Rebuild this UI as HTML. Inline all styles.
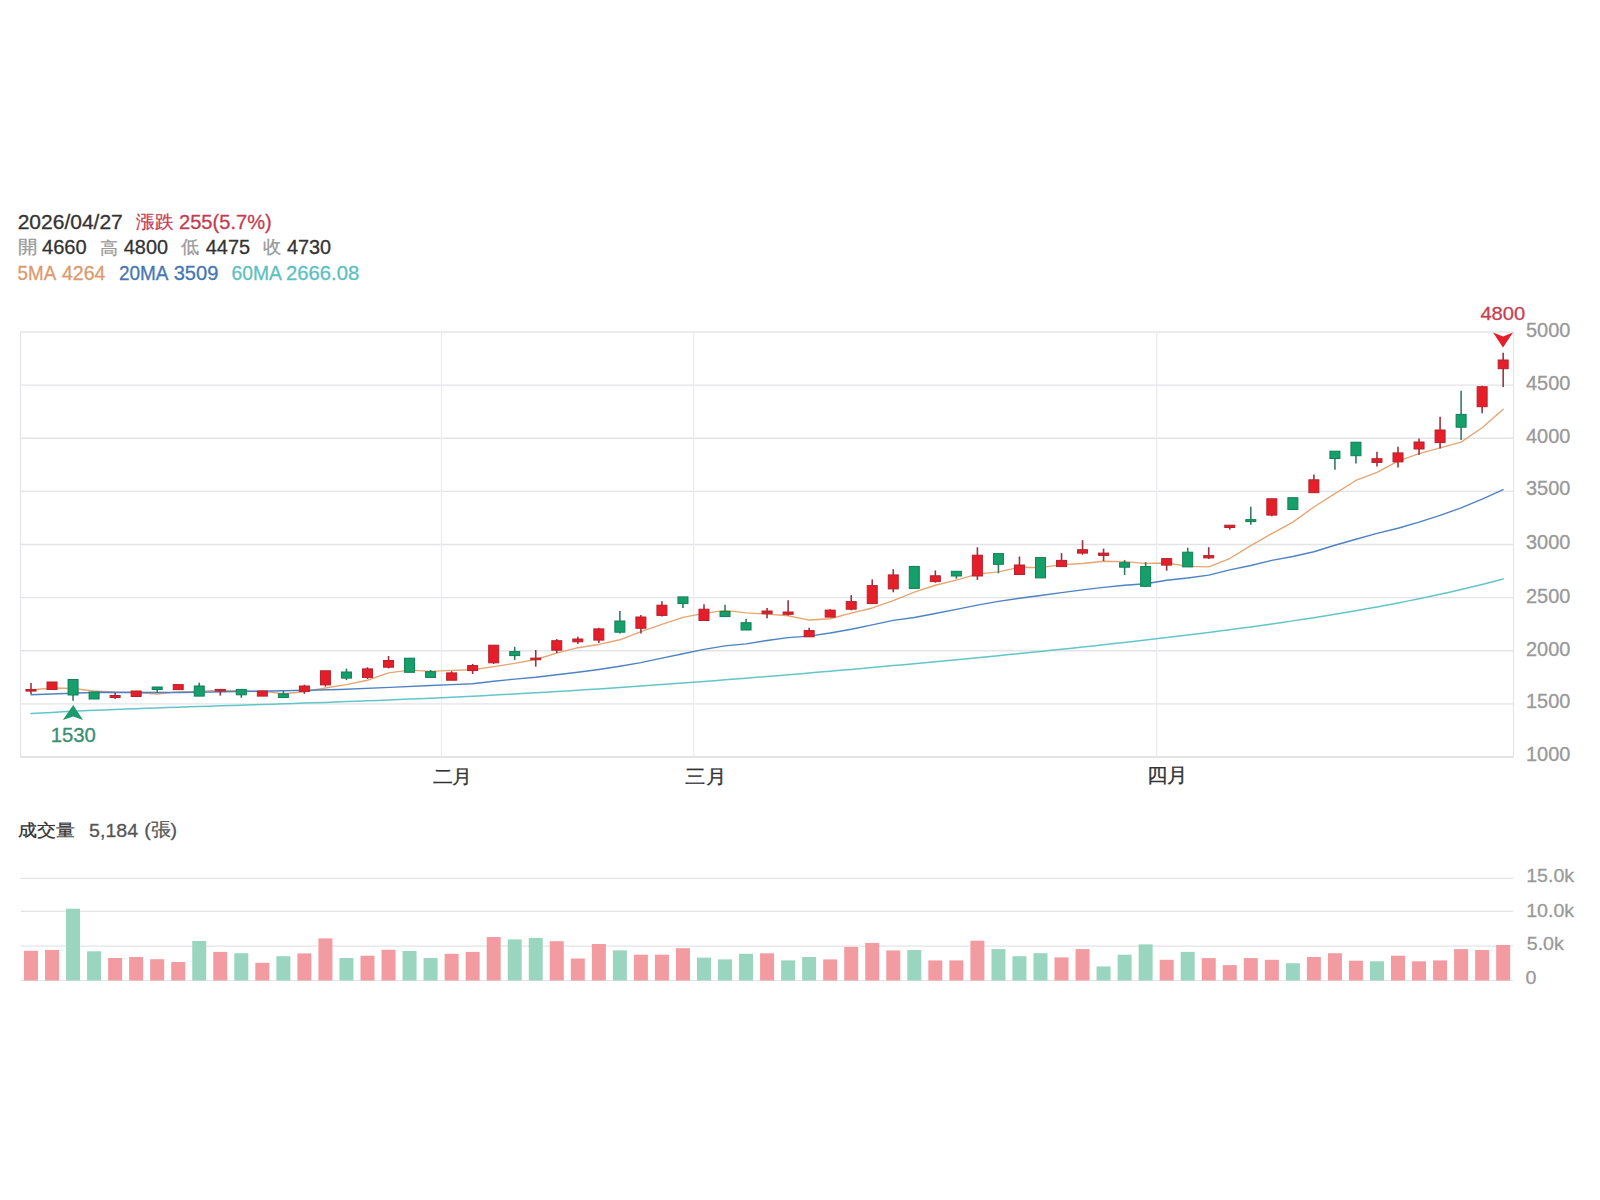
<!DOCTYPE html>
<html><head><meta charset="utf-8"><style>
html,body{margin:0;padding:0;background:#fff;width:1600px;height:1200px;overflow:hidden;position:relative}
body{font-family:"Liberation Sans",sans-serif}
.t{position:absolute;left:18.5px;font-size:20px;white-space:pre;line-height:1}
.g{color:#999} .d{color:#333} .r{color:#d23a4d}
</style></head><body>
<svg width="1600" height="1200" viewBox="0 0 1600 1200" style="position:absolute;left:0;top:0">
<line x1="20.5" y1="332.00" x2="1513.5" y2="332.00" stroke="#e3e4e8" stroke-width="1.3"/>
<line x1="20.5" y1="385.12" x2="1513.5" y2="385.12" stroke="#e3e4e8" stroke-width="1.3"/>
<line x1="20.5" y1="438.25" x2="1513.5" y2="438.25" stroke="#e3e4e8" stroke-width="1.3"/>
<line x1="20.5" y1="491.38" x2="1513.5" y2="491.38" stroke="#e3e4e8" stroke-width="1.3"/>
<line x1="20.5" y1="544.50" x2="1513.5" y2="544.50" stroke="#e3e4e8" stroke-width="1.3"/>
<line x1="20.5" y1="597.62" x2="1513.5" y2="597.62" stroke="#e3e4e8" stroke-width="1.3"/>
<line x1="20.5" y1="650.75" x2="1513.5" y2="650.75" stroke="#e3e4e8" stroke-width="1.3"/>
<line x1="20.5" y1="703.88" x2="1513.5" y2="703.88" stroke="#e3e4e8" stroke-width="1.3"/>
<line x1="20.5" y1="757.00" x2="1513.5" y2="757.00" stroke="#d9dade" stroke-width="1.5"/>
<line x1="20.5" y1="332.0" x2="20.5" y2="757.0" stroke="#e3e4e8" stroke-width="1.2"/>
<line x1="1513.5" y1="332.0" x2="1513.5" y2="757.0" stroke="#e3e4e8" stroke-width="1.2"/>
<line x1="441.5" y1="332.0" x2="441.5" y2="757.0" stroke="#ececef" stroke-width="1.2"/>
<line x1="693.7" y1="332.0" x2="693.7" y2="757.0" stroke="#ececef" stroke-width="1.2"/>
<line x1="1156.7" y1="332.0" x2="1156.7" y2="757.0" stroke="#ececef" stroke-width="1.2"/>
<polyline points="31.00,690.00 52.03,688.00 73.06,688.50 94.09,691.00 115.12,692.20 136.16,692.50 157.19,694.00 178.22,691.92 199.25,691.34 220.28,690.12 241.31,690.88 262.34,691.18 283.37,693.76 304.40,691.74 325.43,688.02 346.46,684.68 367.50,680.26 388.53,672.86 409.56,670.12 430.59,671.44 451.62,670.40 472.65,669.74 493.68,666.68 514.71,663.34 535.74,659.48 556.77,653.04 577.81,647.72 598.84,644.46 619.87,639.78 640.90,631.56 661.93,624.46 682.96,617.38 703.99,613.44 725.02,610.32 746.05,612.92 767.08,614.08 788.12,615.76 809.15,620.04 830.18,618.74 851.21,613.06 872.24,607.98 893.27,600.56 914.30,592.12 935.33,585.26 956.36,580.14 977.39,574.06 998.43,571.94 1019.46,567.26 1040.49,567.68 1061.52,564.56 1082.55,563.46 1103.58,561.22 1124.61,561.66 1145.64,563.34 1166.67,562.98 1187.70,566.42 1208.74,566.92 1229.77,558.52 1250.80,545.58 1271.83,533.62 1292.86,522.14 1313.89,506.98 1334.92,493.64 1355.95,480.46 1376.98,472.44 1398.01,461.12 1419.05,453.56 1440.08,447.86 1461.11,442.16 1482.14,427.76 1503.17,409.18" fill="none" stroke="#e6a572" stroke-width="1.35" stroke-linejoin="round" stroke-linecap="round"/>
<polyline points="31.00,694.70 100.00,692.25 180.00,692.50 260.00,691.25 340.00,689.50 390.00,687.40 430.59,685.45 451.62,684.62 472.65,683.80 493.68,681.31 514.71,679.13 535.74,677.26 556.77,674.75 577.81,672.23 598.84,669.44 619.87,666.25 640.90,662.62 661.93,658.14 682.96,653.77 703.99,649.36 725.02,645.89 746.05,643.85 767.08,640.50 788.12,637.65 809.15,636.15 830.18,633.04 851.21,629.25 872.24,624.89 893.27,620.36 914.30,617.52 935.33,613.52 956.36,609.42 977.39,605.15 998.43,601.41 1019.46,598.21 1040.49,595.50 1061.52,592.67 1082.55,589.90 1103.58,587.37 1124.61,585.27 1145.64,583.75 1166.67,580.19 1187.70,577.98 1208.74,575.16 1229.77,569.89 1250.80,565.46 1271.83,560.33 1292.86,556.52 1313.89,551.76 1334.92,545.27 1355.95,539.26 1376.98,533.40 1398.01,528.29 1419.05,522.17 1440.08,515.42 1461.11,507.89 1482.14,499.20 1503.17,489.72" fill="none" stroke="#4f82c2" stroke-width="1.4" stroke-linejoin="round" stroke-linecap="round"/>
<polyline points="31.00,713.59 41.52,712.98 52.03,712.40 62.55,711.86 73.06,711.34 83.58,710.84 94.09,710.37 104.61,709.92 115.12,709.49 125.64,709.08 136.16,708.68 146.67,708.30 157.19,707.92 167.70,707.56 178.22,707.20 188.73,706.86 199.25,706.51 209.76,706.17 220.28,705.84 230.79,705.50 241.31,705.17 251.83,704.83 262.34,704.49 272.86,704.15 283.37,703.81 293.89,703.46 304.40,703.10 314.92,702.74 325.43,702.38 335.95,702.00 346.46,701.61 356.98,701.22 367.50,700.82 378.01,700.40 388.53,699.98 399.04,699.54 409.56,699.10 420.07,698.64 430.59,698.17 441.10,697.69 451.62,697.19 462.14,696.69 472.65,696.17 483.17,695.63 493.68,695.09 504.20,694.53 514.71,693.95 525.23,693.37 535.74,692.77 546.26,692.16 556.77,691.53 567.29,690.90 577.81,690.24 588.32,689.58 598.84,688.90 609.35,688.22 619.87,687.51 630.38,686.80 640.90,686.08 651.41,685.34 661.93,684.59 672.45,683.83 682.96,683.06 693.48,682.28 703.99,681.49 714.51,680.68 725.02,679.87 735.54,679.04 746.05,678.21 756.57,677.37 767.08,676.52 777.60,675.65 788.12,674.78 798.63,673.90 809.15,673.02 819.66,672.12 830.18,671.21 840.69,670.30 851.21,669.38 861.72,668.45 872.24,667.51 882.76,666.57 893.27,665.62 903.79,664.66 914.30,663.69 924.82,662.71 935.33,661.73 945.85,660.74 956.36,659.74 966.88,658.73 977.39,657.72 987.91,656.69 998.43,655.66 1008.94,654.62 1019.46,653.57 1029.97,652.51 1040.49,651.43 1051.00,650.35 1061.52,649.26 1072.03,648.16 1082.55,647.04 1093.07,645.91 1103.58,644.77 1114.10,643.61 1124.61,642.44 1135.13,641.26 1145.64,640.06 1156.16,638.84 1166.67,637.60 1177.19,636.34 1187.70,635.06 1198.22,633.76 1208.74,632.44 1219.25,631.09 1229.77,629.72 1240.28,628.32 1250.80,626.89 1261.31,625.44 1271.83,623.95 1282.34,622.43 1292.86,620.87 1303.38,619.28 1313.89,617.64 1324.41,615.97 1334.92,614.26 1345.44,612.50 1355.95,610.69 1366.47,608.83 1376.98,606.93 1387.50,604.96 1398.01,602.95 1408.53,600.87 1419.05,598.73 1429.56,596.52 1440.08,594.25 1450.59,591.91 1461.11,589.49 1471.62,587.00 1482.14,584.42 1492.65,581.76 1503.17,579.02" fill="none" stroke="#62c6c8" stroke-width="1.5" stroke-linejoin="round" stroke-linecap="round"/>
<line x1="31.00" y1="683" x2="31.00" y2="694" stroke="#9a3443" stroke-width="1.6"/>
<rect x="26.00" y="689.50" width="10" height="1.60" fill="#e61e2a" stroke="#b3222d" stroke-width="1"/>
<line x1="52.03" y1="682" x2="52.03" y2="689.5" stroke="#9a3443" stroke-width="1.6"/>
<rect x="47.03" y="682.00" width="10" height="7.50" fill="#e61e2a" stroke="#b3222d" stroke-width="1"/>
<line x1="73.06" y1="679.5" x2="73.06" y2="700.7" stroke="#357a62" stroke-width="1.6"/>
<rect x="68.06" y="679.50" width="10" height="15.50" fill="#15a06b" stroke="#0f7f56" stroke-width="1"/>
<line x1="94.09" y1="692" x2="94.09" y2="699" stroke="#357a62" stroke-width="1.6"/>
<rect x="89.09" y="692.00" width="10" height="7.00" fill="#15a06b" stroke="#0f7f56" stroke-width="1"/>
<line x1="115.12" y1="693" x2="115.12" y2="699" stroke="#9a3443" stroke-width="1.6"/>
<rect x="110.12" y="695.50" width="10" height="2.00" fill="#e61e2a" stroke="#b3222d" stroke-width="1"/>
<line x1="136.16" y1="691" x2="136.16" y2="696.5" stroke="#9a3443" stroke-width="1.6"/>
<rect x="131.16" y="691.00" width="10" height="5.50" fill="#e61e2a" stroke="#b3222d" stroke-width="1"/>
<line x1="157.19" y1="687" x2="157.19" y2="693" stroke="#357a62" stroke-width="1.6"/>
<rect x="152.19" y="687.00" width="10" height="2.50" fill="#15a06b" stroke="#0f7f56" stroke-width="1"/>
<line x1="178.22" y1="684.6" x2="178.22" y2="689.6" stroke="#9a3443" stroke-width="1.6"/>
<rect x="173.22" y="684.60" width="10" height="5.00" fill="#e61e2a" stroke="#b3222d" stroke-width="1"/>
<line x1="199.25" y1="682.6" x2="199.25" y2="696.1" stroke="#357a62" stroke-width="1.6"/>
<rect x="194.25" y="686.00" width="10" height="10.10" fill="#15a06b" stroke="#0f7f56" stroke-width="1"/>
<line x1="220.28" y1="689.4" x2="220.28" y2="695.6" stroke="#9a3443" stroke-width="1.6"/>
<rect x="215.28" y="689.40" width="10" height="1.60" fill="#e61e2a" stroke="#b3222d" stroke-width="1"/>
<line x1="241.31" y1="689.4" x2="241.31" y2="697.8" stroke="#357a62" stroke-width="1.6"/>
<rect x="236.31" y="689.40" width="10" height="5.40" fill="#15a06b" stroke="#0f7f56" stroke-width="1"/>
<line x1="262.34" y1="691" x2="262.34" y2="696.1" stroke="#9a3443" stroke-width="1.6"/>
<rect x="257.34" y="691.00" width="10" height="5.10" fill="#e61e2a" stroke="#b3222d" stroke-width="1"/>
<line x1="283.37" y1="691" x2="283.37" y2="697.5" stroke="#357a62" stroke-width="1.6"/>
<rect x="278.37" y="693.90" width="10" height="3.60" fill="#15a06b" stroke="#0f7f56" stroke-width="1"/>
<line x1="304.40" y1="684.6" x2="304.40" y2="693.9" stroke="#9a3443" stroke-width="1.6"/>
<rect x="299.40" y="686.00" width="10" height="5.40" fill="#e61e2a" stroke="#b3222d" stroke-width="1"/>
<line x1="325.43" y1="670.8" x2="325.43" y2="686.6" stroke="#9a3443" stroke-width="1.6"/>
<rect x="320.43" y="670.80" width="10" height="14.10" fill="#e61e2a" stroke="#b3222d" stroke-width="1"/>
<line x1="346.46" y1="668.6" x2="346.46" y2="680.1" stroke="#357a62" stroke-width="1.6"/>
<rect x="341.46" y="672.00" width="10" height="6.10" fill="#15a06b" stroke="#0f7f56" stroke-width="1"/>
<line x1="367.50" y1="667.2" x2="367.50" y2="679" stroke="#9a3443" stroke-width="1.6"/>
<rect x="362.50" y="668.90" width="10" height="8.50" fill="#e61e2a" stroke="#b3222d" stroke-width="1"/>
<line x1="388.53" y1="656" x2="388.53" y2="668.4" stroke="#9a3443" stroke-width="1.6"/>
<rect x="383.53" y="660.50" width="10" height="6.70" fill="#e61e2a" stroke="#b3222d" stroke-width="1"/>
<line x1="409.56" y1="658.2" x2="409.56" y2="672.3" stroke="#357a62" stroke-width="1.6"/>
<rect x="404.56" y="658.20" width="10" height="14.10" fill="#15a06b" stroke="#0f7f56" stroke-width="1"/>
<line x1="430.59" y1="670" x2="430.59" y2="677.4" stroke="#357a62" stroke-width="1.6"/>
<rect x="425.59" y="671.70" width="10" height="5.70" fill="#15a06b" stroke="#0f7f56" stroke-width="1"/>
<line x1="451.62" y1="671.2" x2="451.62" y2="680.2" stroke="#9a3443" stroke-width="1.6"/>
<rect x="446.62" y="672.90" width="10" height="7.30" fill="#e61e2a" stroke="#b3222d" stroke-width="1"/>
<line x1="472.65" y1="663.9" x2="472.65" y2="674" stroke="#9a3443" stroke-width="1.6"/>
<rect x="467.65" y="665.60" width="10" height="5.00" fill="#e61e2a" stroke="#b3222d" stroke-width="1"/>
<line x1="493.68" y1="645.2" x2="493.68" y2="663.9" stroke="#9a3443" stroke-width="1.6"/>
<rect x="488.68" y="645.20" width="10" height="17.60" fill="#e61e2a" stroke="#b3222d" stroke-width="1"/>
<line x1="514.71" y1="646.8" x2="514.71" y2="660" stroke="#357a62" stroke-width="1.6"/>
<rect x="509.71" y="651.60" width="10" height="4.00" fill="#15a06b" stroke="#0f7f56" stroke-width="1"/>
<line x1="535.74" y1="650" x2="535.74" y2="666.6" stroke="#9a3443" stroke-width="1.6"/>
<rect x="530.74" y="658.10" width="10" height="1.60" fill="#e61e2a" stroke="#b3222d" stroke-width="1"/>
<line x1="556.77" y1="639" x2="556.77" y2="653" stroke="#9a3443" stroke-width="1.6"/>
<rect x="551.77" y="640.70" width="10" height="9.50" fill="#e61e2a" stroke="#b3222d" stroke-width="1"/>
<line x1="577.81" y1="636.7" x2="577.81" y2="644" stroke="#9a3443" stroke-width="1.6"/>
<rect x="572.81" y="639.00" width="10" height="2.80" fill="#e61e2a" stroke="#b3222d" stroke-width="1"/>
<line x1="598.84" y1="627.7" x2="598.84" y2="642.9" stroke="#9a3443" stroke-width="1.6"/>
<rect x="593.84" y="628.90" width="10" height="11.20" fill="#e61e2a" stroke="#b3222d" stroke-width="1"/>
<line x1="619.87" y1="610.9" x2="619.87" y2="633.4" stroke="#357a62" stroke-width="1.6"/>
<rect x="614.87" y="621.00" width="10" height="11.20" fill="#15a06b" stroke="#0f7f56" stroke-width="1"/>
<line x1="640.90" y1="615.1" x2="640.90" y2="633.4" stroke="#9a3443" stroke-width="1.6"/>
<rect x="635.90" y="617.00" width="10" height="11.30" fill="#e61e2a" stroke="#b3222d" stroke-width="1"/>
<line x1="661.93" y1="601.3" x2="661.93" y2="616.5" stroke="#9a3443" stroke-width="1.6"/>
<rect x="656.93" y="605.20" width="10" height="10.20" fill="#e61e2a" stroke="#b3222d" stroke-width="1"/>
<line x1="682.96" y1="596.9" x2="682.96" y2="608.1" stroke="#357a62" stroke-width="1.6"/>
<rect x="677.96" y="596.90" width="10" height="6.70" fill="#15a06b" stroke="#0f7f56" stroke-width="1"/>
<line x1="703.99" y1="604.2" x2="703.99" y2="620.5" stroke="#9a3443" stroke-width="1.6"/>
<rect x="698.99" y="609.20" width="10" height="11.30" fill="#e61e2a" stroke="#b3222d" stroke-width="1"/>
<line x1="725.02" y1="604.7" x2="725.02" y2="616.6" stroke="#357a62" stroke-width="1.6"/>
<rect x="720.02" y="611.50" width="10" height="5.10" fill="#15a06b" stroke="#0f7f56" stroke-width="1"/>
<line x1="746.05" y1="618.8" x2="746.05" y2="630" stroke="#357a62" stroke-width="1.6"/>
<rect x="741.05" y="622.70" width="10" height="7.30" fill="#15a06b" stroke="#0f7f56" stroke-width="1"/>
<line x1="767.08" y1="608.1" x2="767.08" y2="618.2" stroke="#9a3443" stroke-width="1.6"/>
<rect x="762.08" y="611.00" width="10" height="2.70" fill="#e61e2a" stroke="#b3222d" stroke-width="1"/>
<line x1="788.12" y1="600.2" x2="788.12" y2="615.4" stroke="#9a3443" stroke-width="1.6"/>
<rect x="783.12" y="612.00" width="10" height="2.30" fill="#e61e2a" stroke="#b3222d" stroke-width="1"/>
<line x1="809.15" y1="627.8" x2="809.15" y2="636.8" stroke="#9a3443" stroke-width="1.6"/>
<rect x="804.15" y="630.60" width="10" height="6.20" fill="#e61e2a" stroke="#b3222d" stroke-width="1"/>
<line x1="830.18" y1="609.2" x2="830.18" y2="617.1" stroke="#9a3443" stroke-width="1.6"/>
<rect x="825.18" y="610.10" width="10" height="7.00" fill="#e61e2a" stroke="#b3222d" stroke-width="1"/>
<line x1="851.21" y1="595.1" x2="851.21" y2="610.3" stroke="#9a3443" stroke-width="1.6"/>
<rect x="846.21" y="601.60" width="10" height="7.60" fill="#e61e2a" stroke="#b3222d" stroke-width="1"/>
<line x1="872.24" y1="579.4" x2="872.24" y2="603.6" stroke="#9a3443" stroke-width="1.6"/>
<rect x="867.24" y="585.60" width="10" height="18.00" fill="#e61e2a" stroke="#b3222d" stroke-width="1"/>
<line x1="893.27" y1="569.2" x2="893.27" y2="592.3" stroke="#9a3443" stroke-width="1.6"/>
<rect x="888.27" y="574.90" width="10" height="14.00" fill="#e61e2a" stroke="#b3222d" stroke-width="1"/>
<line x1="914.30" y1="566.4" x2="914.30" y2="588.4" stroke="#357a62" stroke-width="1.6"/>
<rect x="909.30" y="566.40" width="10" height="22.00" fill="#15a06b" stroke="#0f7f56" stroke-width="1"/>
<line x1="935.33" y1="570.4" x2="935.33" y2="582.7" stroke="#9a3443" stroke-width="1.6"/>
<rect x="930.33" y="575.80" width="10" height="5.80" fill="#e61e2a" stroke="#b3222d" stroke-width="1"/>
<line x1="956.36" y1="571.3" x2="956.36" y2="578.8" stroke="#357a62" stroke-width="1.6"/>
<rect x="951.36" y="571.30" width="10" height="4.70" fill="#15a06b" stroke="#0f7f56" stroke-width="1"/>
<line x1="977.39" y1="547.3" x2="977.39" y2="579.9" stroke="#9a3443" stroke-width="1.6"/>
<rect x="972.39" y="555.20" width="10" height="20.80" fill="#e61e2a" stroke="#b3222d" stroke-width="1"/>
<line x1="998.43" y1="553.6" x2="998.43" y2="573.3" stroke="#357a62" stroke-width="1.6"/>
<rect x="993.43" y="553.60" width="10" height="10.70" fill="#15a06b" stroke="#0f7f56" stroke-width="1"/>
<line x1="1019.46" y1="556.5" x2="1019.46" y2="574.5" stroke="#9a3443" stroke-width="1.6"/>
<rect x="1014.46" y="565.00" width="10" height="9.50" fill="#e61e2a" stroke="#b3222d" stroke-width="1"/>
<line x1="1040.49" y1="557.6" x2="1040.49" y2="577.9" stroke="#357a62" stroke-width="1.6"/>
<rect x="1035.49" y="557.60" width="10" height="20.30" fill="#15a06b" stroke="#0f7f56" stroke-width="1"/>
<line x1="1061.52" y1="553.1" x2="1061.52" y2="566.6" stroke="#9a3443" stroke-width="1.6"/>
<rect x="1056.52" y="560.40" width="10" height="6.20" fill="#e61e2a" stroke="#b3222d" stroke-width="1"/>
<line x1="1082.55" y1="540.2" x2="1082.55" y2="554.8" stroke="#9a3443" stroke-width="1.6"/>
<rect x="1077.55" y="549.70" width="10" height="3.40" fill="#e61e2a" stroke="#b3222d" stroke-width="1"/>
<line x1="1103.58" y1="548.6" x2="1103.58" y2="561" stroke="#9a3443" stroke-width="1.6"/>
<rect x="1098.58" y="553.10" width="10" height="2.30" fill="#e61e2a" stroke="#b3222d" stroke-width="1"/>
<line x1="1124.61" y1="559.9" x2="1124.61" y2="575" stroke="#357a62" stroke-width="1.6"/>
<rect x="1119.61" y="562.70" width="10" height="4.50" fill="#15a06b" stroke="#0f7f56" stroke-width="1"/>
<line x1="1145.64" y1="562.1" x2="1145.64" y2="586.3" stroke="#357a62" stroke-width="1.6"/>
<rect x="1140.64" y="566.60" width="10" height="19.70" fill="#15a06b" stroke="#0f7f56" stroke-width="1"/>
<line x1="1166.67" y1="558.6" x2="1166.67" y2="570.7" stroke="#9a3443" stroke-width="1.6"/>
<rect x="1161.67" y="558.60" width="10" height="6.50" fill="#e61e2a" stroke="#b3222d" stroke-width="1"/>
<line x1="1187.70" y1="547.7" x2="1187.70" y2="566.9" stroke="#357a62" stroke-width="1.6"/>
<rect x="1182.70" y="552.20" width="10" height="14.70" fill="#15a06b" stroke="#0f7f56" stroke-width="1"/>
<line x1="1208.74" y1="547.2" x2="1208.74" y2="559" stroke="#9a3443" stroke-width="1.6"/>
<rect x="1203.74" y="555.60" width="10" height="2.30" fill="#e61e2a" stroke="#b3222d" stroke-width="1"/>
<line x1="1229.77" y1="525.2" x2="1229.77" y2="529.7" stroke="#9a3443" stroke-width="1.6"/>
<rect x="1224.77" y="525.20" width="10" height="2.30" fill="#e61e2a" stroke="#b3222d" stroke-width="1"/>
<line x1="1250.80" y1="506.7" x2="1250.80" y2="524.7" stroke="#357a62" stroke-width="1.6"/>
<rect x="1245.80" y="519.60" width="10" height="2.00" fill="#15a06b" stroke="#0f7f56" stroke-width="1"/>
<line x1="1271.83" y1="498.8" x2="1271.83" y2="516.2" stroke="#9a3443" stroke-width="1.6"/>
<rect x="1266.83" y="498.80" width="10" height="16.30" fill="#e61e2a" stroke="#b3222d" stroke-width="1"/>
<line x1="1292.86" y1="497.7" x2="1292.86" y2="509.5" stroke="#357a62" stroke-width="1.6"/>
<rect x="1287.86" y="497.70" width="10" height="11.80" fill="#15a06b" stroke="#0f7f56" stroke-width="1"/>
<line x1="1313.89" y1="474.4" x2="1313.89" y2="492.7" stroke="#9a3443" stroke-width="1.6"/>
<rect x="1308.89" y="479.80" width="10" height="12.90" fill="#e61e2a" stroke="#b3222d" stroke-width="1"/>
<line x1="1334.92" y1="451.2" x2="1334.92" y2="469.7" stroke="#357a62" stroke-width="1.6"/>
<rect x="1329.92" y="451.20" width="10" height="7.30" fill="#15a06b" stroke="#0f7f56" stroke-width="1"/>
<line x1="1355.95" y1="442.2" x2="1355.95" y2="463.6" stroke="#357a62" stroke-width="1.6"/>
<rect x="1350.95" y="442.20" width="10" height="13.50" fill="#15a06b" stroke="#0f7f56" stroke-width="1"/>
<line x1="1376.98" y1="451.7" x2="1376.98" y2="466.4" stroke="#9a3443" stroke-width="1.6"/>
<rect x="1371.98" y="458.70" width="10" height="3.70" fill="#e61e2a" stroke="#b3222d" stroke-width="1"/>
<line x1="1398.01" y1="446.7" x2="1398.01" y2="467.5" stroke="#9a3443" stroke-width="1.6"/>
<rect x="1393.01" y="452.90" width="10" height="9.00" fill="#e61e2a" stroke="#b3222d" stroke-width="1"/>
<line x1="1419.05" y1="438.5" x2="1419.05" y2="455.1" stroke="#9a3443" stroke-width="1.6"/>
<rect x="1414.05" y="442.00" width="10" height="7.00" fill="#e61e2a" stroke="#b3222d" stroke-width="1"/>
<line x1="1440.08" y1="416.8" x2="1440.08" y2="448.4" stroke="#9a3443" stroke-width="1.6"/>
<rect x="1435.08" y="430.00" width="10" height="12.60" fill="#e61e2a" stroke="#b3222d" stroke-width="1"/>
<line x1="1461.11" y1="390.8" x2="1461.11" y2="440" stroke="#357a62" stroke-width="1.6"/>
<rect x="1456.11" y="414.40" width="10" height="12.80" fill="#15a06b" stroke="#0f7f56" stroke-width="1"/>
<line x1="1482.14" y1="385.8" x2="1482.14" y2="413.3" stroke="#9a3443" stroke-width="1.6"/>
<rect x="1477.14" y="386.70" width="10" height="20.00" fill="#e61e2a" stroke="#b3222d" stroke-width="1"/>
<line x1="1503.17" y1="352.8" x2="1503.17" y2="387" stroke="#9a3443" stroke-width="1.6"/>
<rect x="1498.17" y="360.00" width="10" height="8.70" fill="#e61e2a" stroke="#b3222d" stroke-width="1"/>
<path d="M73.2,705.1 L83,720 L73.2,716.6 L62.8,720 Z" fill="#1b9a6c"/>
<path d="M1493,332.5 L1503,336.4 L1513,332.5 L1503,347.5 Z" fill="#e61d2b"/>
<text transform="translate(17.70,229.40) scale(1.0504,1.0070)" font-size="20" fill="#333" stroke="#333" stroke-width="0.3" font-family="'Liberation Sans', sans-serif">2026/04/27</text>
<text transform="translate(136.31,228.15) scale(0.9311,0.9043)" font-size="20" fill="#c43c50" stroke="#c43c50" stroke-width="0.3" font-family="'Liberation Sans', sans-serif">漲跌</text>
<text transform="translate(178.99,229.20) scale(1.0056,0.9930)" font-size="20" fill="#c43c50" stroke="#c43c50" stroke-width="0.3" font-family="'Liberation Sans', sans-serif">255(5.7%)</text>
<text transform="translate(17.81,253.34) scale(0.9884,0.9140)" font-size="20" fill="#999" stroke="#999" stroke-width="0.3" font-family="'Liberation Sans', sans-serif">開</text>
<text transform="translate(42.00,254.40) scale(1.0046,0.9720)" font-size="20" fill="#333" stroke="#333" stroke-width="0.3" font-family="'Liberation Sans', sans-serif">4660</text>
<text transform="translate(99.57,253.64) scale(0.9167,0.8673)" font-size="20" fill="#999" stroke="#999" stroke-width="0.3" font-family="'Liberation Sans', sans-serif">高</text>
<text transform="translate(123.80,254.40) scale(0.9931,0.9720)" font-size="20" fill="#333" stroke="#333" stroke-width="0.3" font-family="'Liberation Sans', sans-serif">4800</text>
<text transform="translate(181.20,253.30) scale(0.9278,0.9239)" font-size="20" fill="#999" stroke="#999" stroke-width="0.3" font-family="'Liberation Sans', sans-serif">低</text>
<text transform="translate(205.70,254.40) scale(0.9977,0.9720)" font-size="20" fill="#333" stroke="#333" stroke-width="0.3" font-family="'Liberation Sans', sans-serif">4475</text>
<text transform="translate(263.26,253.14) scale(0.9239,0.9140)" font-size="20" fill="#999" stroke="#999" stroke-width="0.3" font-family="'Liberation Sans', sans-serif">收</text>
<text transform="translate(287.00,254.40) scale(0.9931,0.9720)" font-size="20" fill="#333" stroke="#333" stroke-width="0.3" font-family="'Liberation Sans', sans-serif">4730</text>
<text transform="translate(17.55,279.60) scale(0.9406,1.0000)" font-size="20" fill="#dc9a6c" stroke="#dc9a6c" stroke-width="0.3" font-family="'Liberation Sans', sans-serif">5MA</text>
<text transform="translate(61.91,279.60) scale(0.9794,1.0000)" font-size="20" fill="#dc9a6c" stroke="#dc9a6c" stroke-width="0.3" font-family="'Liberation Sans', sans-serif">4264</text>
<text transform="translate(118.95,279.60) scale(0.9492,1.0000)" font-size="20" fill="#4676b4" stroke="#4676b4" stroke-width="0.3" font-family="'Liberation Sans', sans-serif">20MA</text>
<text transform="translate(173.70,279.60) scale(1.0047,1.0000)" font-size="20" fill="#4676b4" stroke="#4676b4" stroke-width="0.3" font-family="'Liberation Sans', sans-serif">3509</text>
<text transform="translate(231.44,279.60) scale(0.9648,1.0000)" font-size="20" fill="#5cc0c0" stroke="#5cc0c0" stroke-width="0.3" font-family="'Liberation Sans', sans-serif">60MA</text>
<text transform="translate(286.09,279.60) scale(1.0114,1.0000)" font-size="20" fill="#5cc0c0" stroke="#5cc0c0" stroke-width="0.3" font-family="'Liberation Sans', sans-serif">2666.08</text>
<text transform="translate(18.42,835.84) scale(0.9590,0.8614)" font-size="20" fill="#333" stroke="#333" stroke-width="0.3" font-family="'Liberation Sans', sans-serif">成交量</text>
<text transform="translate(89.12,836.90) scale(0.9795,0.9441)" font-size="20" fill="#555" stroke="#555" stroke-width="0.3" font-family="'Liberation Sans', sans-serif">5,184</text>
<text transform="translate(144.32,836.39) scale(0.9839,0.9300)" font-size="20" fill="#555" stroke="#555" stroke-width="0.3" font-family="'Liberation Sans', sans-serif">(張)</text>
<text transform="translate(432.91,782.76) scale(0.9858,0.9389)" font-size="20" fill="#333" stroke="#333" stroke-width="0.3" font-family="'Liberation Sans', sans-serif">二月</text>
<text transform="translate(684.99,782.76) scale(1.0114,0.9389)" font-size="20" fill="#333" stroke="#333" stroke-width="0.3" font-family="'Liberation Sans', sans-serif">三月</text>
<text transform="translate(1147.09,782.44) scale(1.0060,0.9833)" font-size="20" fill="#333" stroke="#333" stroke-width="0.3" font-family="'Liberation Sans', sans-serif">四月</text>
<text transform="translate(50.68,742.20) scale(1.0165,0.9930)" font-size="20" fill="#3a8f72" stroke="#3a8f72" stroke-width="0.3" font-family="'Liberation Sans', sans-serif">1530</text>
<text transform="translate(1480.40,320.40) scale(1.0092,0.9580)" font-size="20" fill="#c8404e" stroke="#c8404e" stroke-width="0.3" font-family="'Liberation Sans', sans-serif">4800</text>
<text transform="translate(1526.13,882.20) scale(0.9811,0.9406)" font-size="20" fill="#999" stroke="#999" stroke-width="0.3" font-family="'Liberation Sans', sans-serif">15.0k</text>
<text transform="translate(1526.00,336.60) scale(0.9977,1.0070)" font-size="20" fill="#999" stroke="#999" stroke-width="0.3" font-family="'Liberation Sans', sans-serif">5000</text>
<text transform="translate(1526.00,389.90) scale(0.9977,1.0070)" font-size="20" fill="#999" stroke="#999" stroke-width="0.3" font-family="'Liberation Sans', sans-serif">4500</text>
<text transform="translate(1526.00,443.40) scale(0.9977,1.0070)" font-size="20" fill="#999" stroke="#999" stroke-width="0.3" font-family="'Liberation Sans', sans-serif">4000</text>
<text transform="translate(1526.00,495.40) scale(0.9977,1.0070)" font-size="20" fill="#999" stroke="#999" stroke-width="0.3" font-family="'Liberation Sans', sans-serif">3500</text>
<text transform="translate(1526.00,549.30) scale(0.9977,1.0070)" font-size="20" fill="#999" stroke="#999" stroke-width="0.3" font-family="'Liberation Sans', sans-serif">3000</text>
<text transform="translate(1526.00,602.70) scale(0.9977,1.0070)" font-size="20" fill="#999" stroke="#999" stroke-width="0.3" font-family="'Liberation Sans', sans-serif">2500</text>
<text transform="translate(1526.00,656.00) scale(0.9977,1.0070)" font-size="20" fill="#999" stroke="#999" stroke-width="0.3" font-family="'Liberation Sans', sans-serif">2000</text>
<text transform="translate(1526.00,707.70) scale(0.9977,1.0070)" font-size="20" fill="#999" stroke="#999" stroke-width="0.3" font-family="'Liberation Sans', sans-serif">1500</text>
<text transform="translate(1526.00,761.00) scale(0.9977,1.0070)" font-size="20" fill="#999" stroke="#999" stroke-width="0.3" font-family="'Liberation Sans', sans-serif">1000</text>
<line x1="20.8" y1="878.3" x2="1513.3" y2="878.3" stroke="#e3e4e8" stroke-width="1.2"/>
<line x1="20.8" y1="911.3" x2="1513.3" y2="911.3" stroke="#e3e4e8" stroke-width="1.2"/>
<line x1="20.8" y1="946.2" x2="1513.3" y2="946.2" stroke="#e3e4e8" stroke-width="1.2"/>
<line x1="20.8" y1="980.5" x2="1513.3" y2="980.5" stroke="#e3e4e8" stroke-width="1.2"/>
<text transform="translate(1526.13,917.20) scale(0.9811,0.9510)" font-size="20" fill="#999" stroke="#999" stroke-width="0.3" font-family="'Liberation Sans', sans-serif">10.0k</text>
<text transform="translate(1526.72,949.80) scale(0.9811,0.9510)" font-size="20" fill="#999" stroke="#999" stroke-width="0.3" font-family="'Liberation Sans', sans-serif">5.0k</text>
<text transform="translate(1525.52,984.30) scale(0.9811,0.9510)" font-size="20" fill="#999" stroke="#999" stroke-width="0.3" font-family="'Liberation Sans', sans-serif">0</text>
<rect x="24.00" y="950.8" width="14" height="29.70" fill="#f29ca1"/>
<rect x="45.03" y="950" width="14" height="30.50" fill="#f29ca1"/>
<rect x="66.06" y="908.7" width="14" height="71.80" fill="#9ad5c0"/>
<rect x="87.09" y="951.3" width="14" height="29.20" fill="#9ad5c0"/>
<rect x="108.12" y="958" width="14" height="22.50" fill="#f29ca1"/>
<rect x="129.16" y="957" width="14" height="23.50" fill="#f29ca1"/>
<rect x="150.19" y="959.2" width="14" height="21.30" fill="#f29ca1"/>
<rect x="171.22" y="962" width="14" height="18.50" fill="#f29ca1"/>
<rect x="192.25" y="941" width="14" height="39.50" fill="#9ad5c0"/>
<rect x="213.28" y="951.9" width="14" height="28.60" fill="#f29ca1"/>
<rect x="234.31" y="953.2" width="14" height="27.30" fill="#9ad5c0"/>
<rect x="255.34" y="962.8" width="14" height="17.70" fill="#f29ca1"/>
<rect x="276.37" y="956.2" width="14" height="24.30" fill="#9ad5c0"/>
<rect x="297.40" y="953.4" width="14" height="27.10" fill="#f29ca1"/>
<rect x="318.43" y="938.4" width="14" height="42.10" fill="#f29ca1"/>
<rect x="339.46" y="958" width="14" height="22.50" fill="#9ad5c0"/>
<rect x="360.50" y="955.7" width="14" height="24.80" fill="#f29ca1"/>
<rect x="381.53" y="949.7" width="14" height="30.80" fill="#f29ca1"/>
<rect x="402.56" y="951" width="14" height="29.50" fill="#9ad5c0"/>
<rect x="423.59" y="958" width="14" height="22.50" fill="#9ad5c0"/>
<rect x="444.62" y="953.8" width="14" height="26.70" fill="#f29ca1"/>
<rect x="465.65" y="951.9" width="14" height="28.60" fill="#f29ca1"/>
<rect x="486.68" y="937" width="14" height="43.50" fill="#f29ca1"/>
<rect x="507.71" y="939.4" width="14" height="41.10" fill="#9ad5c0"/>
<rect x="528.74" y="937.9" width="14" height="42.60" fill="#9ad5c0"/>
<rect x="549.77" y="941.2" width="14" height="39.30" fill="#f29ca1"/>
<rect x="570.81" y="958.5" width="14" height="22.00" fill="#f29ca1"/>
<rect x="591.84" y="944" width="14" height="36.50" fill="#f29ca1"/>
<rect x="612.87" y="950.4" width="14" height="30.10" fill="#9ad5c0"/>
<rect x="633.90" y="954.7" width="14" height="25.80" fill="#f29ca1"/>
<rect x="654.93" y="954.7" width="14" height="25.80" fill="#f29ca1"/>
<rect x="675.96" y="948.2" width="14" height="32.30" fill="#f29ca1"/>
<rect x="696.99" y="957.6" width="14" height="22.90" fill="#9ad5c0"/>
<rect x="718.02" y="959.4" width="14" height="21.10" fill="#9ad5c0"/>
<rect x="739.05" y="953.8" width="14" height="26.70" fill="#9ad5c0"/>
<rect x="760.08" y="953.3" width="14" height="27.20" fill="#f29ca1"/>
<rect x="781.12" y="960.4" width="14" height="20.10" fill="#9ad5c0"/>
<rect x="802.15" y="957" width="14" height="23.50" fill="#9ad5c0"/>
<rect x="823.18" y="959.4" width="14" height="21.10" fill="#f29ca1"/>
<rect x="844.21" y="946.9" width="14" height="33.60" fill="#f29ca1"/>
<rect x="865.24" y="942.9" width="14" height="37.60" fill="#f29ca1"/>
<rect x="886.27" y="950.4" width="14" height="30.10" fill="#f29ca1"/>
<rect x="907.30" y="950" width="14" height="30.50" fill="#9ad5c0"/>
<rect x="928.33" y="960.4" width="14" height="20.10" fill="#f29ca1"/>
<rect x="949.36" y="960.4" width="14" height="20.10" fill="#f29ca1"/>
<rect x="970.39" y="940.7" width="14" height="39.80" fill="#f29ca1"/>
<rect x="991.43" y="949.1" width="14" height="31.40" fill="#9ad5c0"/>
<rect x="1012.46" y="956.2" width="14" height="24.30" fill="#9ad5c0"/>
<rect x="1033.49" y="953.2" width="14" height="27.30" fill="#9ad5c0"/>
<rect x="1054.52" y="957.4" width="14" height="23.10" fill="#f29ca1"/>
<rect x="1075.55" y="949.1" width="14" height="31.40" fill="#f29ca1"/>
<rect x="1096.58" y="966.4" width="14" height="14.10" fill="#9ad5c0"/>
<rect x="1117.61" y="954.7" width="14" height="25.80" fill="#9ad5c0"/>
<rect x="1138.64" y="944.4" width="14" height="36.10" fill="#9ad5c0"/>
<rect x="1159.67" y="959.8" width="14" height="20.70" fill="#f29ca1"/>
<rect x="1180.70" y="951.9" width="14" height="28.60" fill="#9ad5c0"/>
<rect x="1201.74" y="958.1" width="14" height="22.40" fill="#f29ca1"/>
<rect x="1222.77" y="965.1" width="14" height="15.40" fill="#f29ca1"/>
<rect x="1243.80" y="958.1" width="14" height="22.40" fill="#f29ca1"/>
<rect x="1264.83" y="959.8" width="14" height="20.70" fill="#f29ca1"/>
<rect x="1285.86" y="963.2" width="14" height="17.30" fill="#9ad5c0"/>
<rect x="1306.89" y="957" width="14" height="23.50" fill="#f29ca1"/>
<rect x="1327.92" y="953.2" width="14" height="27.30" fill="#f29ca1"/>
<rect x="1348.95" y="960.7" width="14" height="19.80" fill="#f29ca1"/>
<rect x="1369.98" y="961.3" width="14" height="19.20" fill="#9ad5c0"/>
<rect x="1391.01" y="955.7" width="14" height="24.80" fill="#f29ca1"/>
<rect x="1412.05" y="961.3" width="14" height="19.20" fill="#f29ca1"/>
<rect x="1433.08" y="960.4" width="14" height="20.10" fill="#f29ca1"/>
<rect x="1454.11" y="949.1" width="14" height="31.40" fill="#f29ca1"/>
<rect x="1475.14" y="950" width="14" height="30.50" fill="#f29ca1"/>
<rect x="1496.17" y="945" width="14" height="35.50" fill="#f29ca1"/>
</svg>
</body></html>
